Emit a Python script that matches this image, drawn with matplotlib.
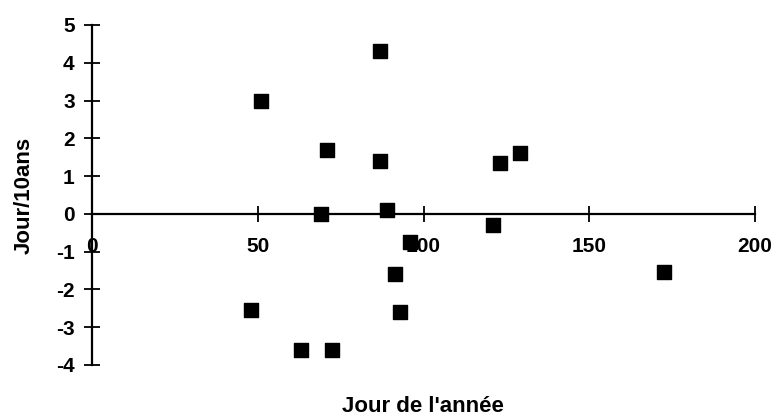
import matplotlib
matplotlib.use("Agg")
import matplotlib.pyplot as plt

jour = [51, 87, 71, 87, 69, 89, 96, 121, 123, 129, 172.5, 91.5, 93, 48, 63, 72.5]
tendance = [3.0, 4.3, 1.7, 1.4, 0.0, 0.1, -0.75, -0.3, 1.36, 1.6, -1.55, -1.6, -2.6, -2.55, -3.6, -3.6]
xticks = [0, 50, 100, 150, 200]
yticks = [-4, -3, -2, -1, 0, 1, 2, 3, 4, 5]

plt.rcParams['font.family'] = ['Liberation Sans', 'DejaVu Sans']
fig = plt.figure(figsize=(7.78, 4.2), dpi=100)
ax = fig.add_axes([92/778, 1-365/420, (755-92)/778, (365-25)/420])
ax.scatter(jour, tendance, marker='s', s=100, color='black', zorder=3)
ax.set_xlim(0, 200)
ax.set_ylim(-4, 5)
ax.spines['top'].set_visible(False)
ax.spines['right'].set_visible(False)
ax.spines['bottom'].set_position(('data', 0))
ax.spines['left'].set_position(('data', 0))
for s in ('bottom', 'left'):
    ax.spines[s].set_linewidth(1.6)
ax.set_xticks(xticks)
ax.set_yticks(yticks)
ax.set_xticklabels([str(v) for v in xticks], fontsize=15, fontweight='bold')
ax.set_yticklabels([str(v) for v in yticks], fontsize=15, fontweight='bold')
ax.tick_params(axis='x', direction='inout', length=11, width=1.3, pad=11)
ax.tick_params(axis='y', direction='inout', length=11, width=1.3, pad=7)
fig.text(423/778, 1-406/420, "Jour de l'année", ha='center', va='center', fontsize=16, fontweight='bold')
fig.text(24/778, 1-195/420, "Jour/10ans", ha='center', va='center', rotation=90, fontsize=16, fontweight='bold')
fig.savefig('out.png', dpi=100)
